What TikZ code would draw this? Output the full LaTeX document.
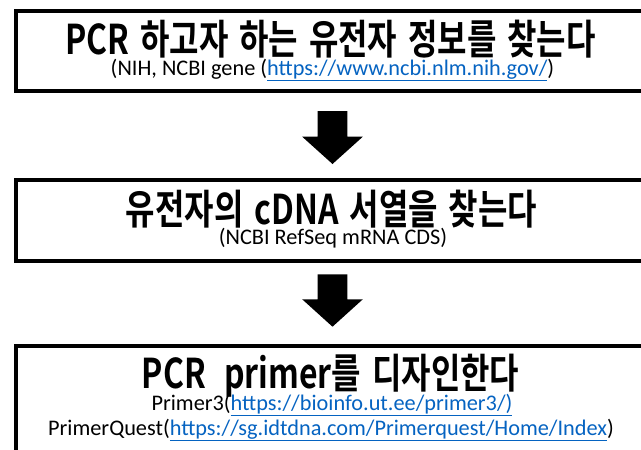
\documentclass[tikz,border=0pt]{standalone}
\usepackage{fontspec}
\setmainfont{Carlito}
\IfFontExistsTF{Noto Sans CJK KR Black}
  {\newfontfamily\krb{Noto Sans CJK KR Black}[FakeStretch=0.78,WordSpace=1.5]}
  {\newfontfamily\krb{Noto Sans CJK KR}[FakeStretch=0.78,WordSpace=1.5,UprightFont=*,BoldFont=* Bold,FakeBold=1.5]}
\definecolor{linkblue}{HTML}{0563C1}
\newcommand{\lnk}[1]{\textcolor{linkblue}{\underline{#1}}}
\begin{document}
\begin{tikzpicture}[x=1pt,y=-1pt,
  box/.style={draw=black, line width=4pt, inner sep=0pt, anchor=north west, minimum width=666pt},
  title/.style={anchor=base, inner sep=0pt, font=\krb\bfseries\fontsize{41}{44}\selectfont},
  sub/.style={anchor=base, inner sep=0pt, font=\fontsize{22.3}{25}\selectfont}]
\useasboundingbox (0,0) rectangle (641,450);
% boxes
\node[box, minimum height=80.5pt] (b1) at (14,8.5) {};
\node[box, minimum height=81.5pt] (b2) at (14,177.5) {};
\node[box, minimum height=130pt] (b3) at (14,343.5) {};
% texts
\node[title] (t1) at (330.5,54) {PCR 하고자 하는 유전자 정보를 찾는다};
\node[sub] (s1) at (332.5,75) {(NIH, NCBI gene (\lnk{https://www.ncbi.nlm.nih.gov/})};
\node[title] (t2) at (331.5,224) {유전자의 cDNA 서열을 찾는다};
\node[sub] (s2) at (333,244.5) {(NCBI RefSeq mRNA CDS)};
\node[title] (t3) at (330.5,388) {PCR\hspace{0.45em}primer를 디자인한다};
\node[sub] (s3) at (332,410) {Primer3(\lnk{https://bioinfo.ut.ee/primer3/)}};
\node[sub] (s4) at (331,435) {PrimerQuest(\lnk{https://sg.idtdna.com/Primerquest/Home/Index})};
% arrows
\coordinate (a1) at (332.5,111);
\coordinate (a2) at (332.5,274.3);
\fill[shift={(a1)}] (-14.8,0) -- (14.8,0) -- (14.8,25.7) -- (30.3,25.7) -- (0,53) -- (-30.3,25.7) -- (-14.8,25.7) -- cycle;
\fill[shift={(a2)}] (-14.8,0) -- (14.8,0) -- (14.8,25) -- (30.3,25) -- (0,52.4) -- (-30.3,25) -- (-14.8,25) -- cycle;
\end{tikzpicture}
\end{document}
